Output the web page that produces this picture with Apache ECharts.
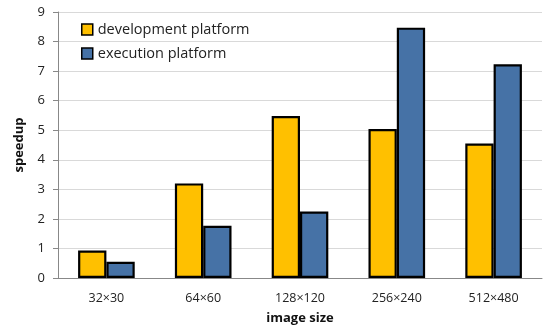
<!DOCTYPE html>
<html><head><meta charset="utf-8">
<script src="https://cdn.jsdelivr.net/npm/echarts@6/dist/echarts.min.js"></script>
<style>html,body{margin:0;padding:0;background:#fff}#c{width:559px;height:325px}</style>
</head><body><div id="c"></div>
<script>
const categories = ['32×30', '64×60', '128×120', '256×240', '512×480'];
const devValues = [0.93, 3.2, 5.48, 5.04, 4.55];
const execValues = [0.55, 1.77, 2.25, 8.47, 7.23];
const yTicks = [0, 1, 2, 3, 4, 5, 6, 7, 8, 9];
const seriesNames = ['development platform', 'execution platform'];

const font = 'Open Sans';
const chart = echarts.init(document.getElementById('c'));
chart.setOption({
  animation: false,
  textStyle: { fontFamily: font },
  grid: { left: 58, right: 17, top: 12, bottom: 47, outerBoundsMode: 'none', containLabel: false },
  legend: {
    orient: 'vertical', left: 76, top: 17, itemGap: 9,
    itemWidth: 11, itemHeight: 11,
    textStyle: { fontSize: 14.5, color: '#222', fontFamily: font },
    data: seriesNames.map(n => ({ name: n, icon: 'rect', itemStyle: { borderWidth: 1.5 } }))
  },
  xAxis: {
    type: 'category', data: categories,
    name: 'image size', nameLocation: 'middle', nameGap: 34,
    nameTextStyle: { fontWeight: 'bold', fontSize: 13, color: '#111' },
    axisLine: { lineStyle: { color: '#888' } },
    axisTick: { show: false },
    axisLabel: { fontSize: 12.5, color: '#222', margin: 14 }
  },
  yAxis: {
    type: 'value', min: yTicks[0], max: yTicks[yTicks.length - 1], interval: 1,
    name: 'speedup', nameLocation: 'middle', nameGap: 32,
    nameTextStyle: { fontWeight: 'bold', fontSize: 13, color: '#111' },
    axisLine: { show: true, lineStyle: { color: '#888' } },
    axisTick: { show: true, length: 5, lineStyle: { color: '#888' } },
    axisLabel: { fontSize: 13, color: '#222', margin: 13 },
    splitLine: { lineStyle: { color: '#d9d9d9' } }
  },
  series: [
    { name: seriesNames[0], type: 'bar', data: devValues, barGap: '0%', barCategoryGap: '41.5%',
      itemStyle: { color: '#FFC000', borderColor: '#000', borderWidth: 2.2 } },
    { name: seriesNames[1], type: 'bar', data: execValues, barGap: '0%', barCategoryGap: '41.5%',
      itemStyle: { color: '#4672A6', borderColor: '#000', borderWidth: 2.2 } }
  ]
});
</script></body></html>
